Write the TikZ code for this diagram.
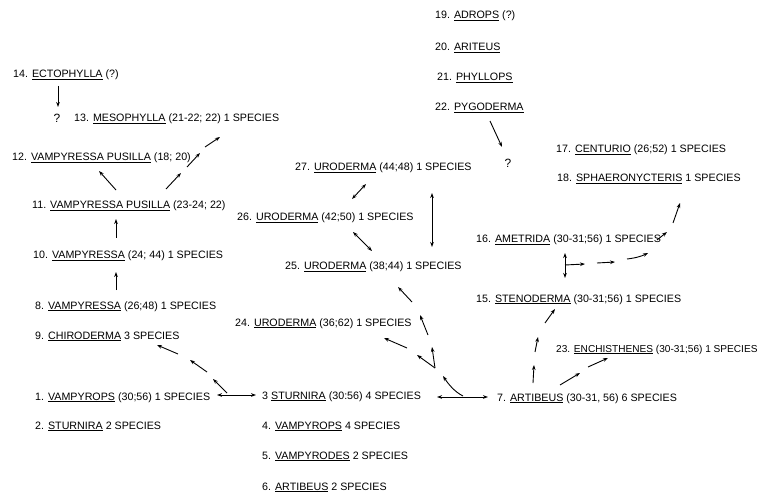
\documentclass[tikz,border=0pt]{standalone}
\usepackage{fontspec}
\setmainfont{Liberation Sans}
\usetikzlibrary{arrows.meta}
\newcommand{\gn}[1]{\underline{#1}}
\begin{document}
\begin{tikzpicture}[x=1pt,y=-1pt,
  lab/.style={anchor=base west,inner sep=0pt,font=\fontsize{10.7}{12}\selectfont},
  qm/.style={anchor=center,inner sep=0pt,font=\fontsize{12}{14}\selectfont},
  arr/.style={line width=0.9pt,-{Stealth[length=5pt,width=3.6pt]}},
  darr/.style={line width=0.9pt,{Stealth[length=5pt,width=3.6pt]}-{Stealth[length=5pt,width=3.6pt]}},
  ]
\useasboundingbox (0,0) rectangle (768,494);
% left column
\node[lab] (n14) at (13,78) {14. \gn{ECTOPHYLLA} (?)};
\node[qm]  (q14) at (57,118) {?};
\node[lab] (n13) at (74,122) {13. \gn{MESOPHYLLA} (21-22; 22) 1 SPECIES};
\node[lab] (n12) at (12,161) {12. \gn{VAMPYRESSA PUSILLA} (18; 20)};
\node[lab] (n11) at (32,209) {11. \gn{VAMPYRESSA PUSILLA} (23-24; 22)};
\node[lab] (n10) at (33,259) {10. \gn{VAMPYRESSA} (24; 44) 1 SPECIES};
\node[lab] (n8)  at (35,309) {8. \gn{VAMPYRESSA} (26;48) 1 SPECIES};
\node[lab] (n9)  at (35,339) {9. \gn{CHIRODERMA} 3 SPECIES};
\node[lab] (n1)  at (35,400) {1. \gn{VAMPYROPS} (30;56) 1 SPECIES};
\node[lab] (n2)  at (35,429) {2. \gn{STURNIRA} 2 SPECIES};
% centre column
\node[lab] (n3)  at (262,399) {3 \gn{STURNIRA} (30:56) 4 SPECIES};
\node[lab] (n4)  at (262,429) {4. \gn{VAMPYROPS} 4 SPECIES};
\node[lab] (n5)  at (262,459) {5. \gn{VAMPYRODES} 2 SPECIES};
\node[lab] (n6)  at (262,490) {6. \gn{ARTIBEUS} 2 SPECIES};
\node[lab] (n24) at (235,326) {24. \gn{URODERMA} (36;62) 1 SPECIES};
\node[lab] (n25) at (285,270) {25. \gn{URODERMA} (38;44) 1 SPECIES};
\node[lab] (n26) at (237,221) {26. \gn{URODERMA} (42;50) 1 SPECIES};
\node[lab] (n27) at (295,171) {27. \gn{URODERMA} (44;48) 1 SPECIES};
% top
\node[lab] (n19) at (435,19) {19. \gn{ADROPS} (?)};
\node[lab] (n20) at (435,51) {20. \gn{ARITEUS}};
\node[lab] (n21) at (437,81) {21. \gn{PHYLLOPS}};
\node[lab] (n22) at (435,111) {22. \gn{PYGODERMA}};
\node[qm]  (q22) at (508,163) {?};
% right
\node[lab] (n17) at (556,153) {17. \gn{CENTURIO} (26;52) 1 SPECIES};
\node[lab] (n18) at (557,182) {18. \gn{SPHAERONYCTERIS} 1 SPECIES};
\node[lab] (n16) at (476,243) {16. \gn{AMETRIDA} (30-31;56) 1 SPECIES};
\node[lab] (n15) at (476,302) {15. \gn{STENODERMA} (30-31;56) 1 SPECIES};
\node[lab,font=\fontsize{10.1}{12}\selectfont] (n23) at (556,352) {23. \gn{ENCHISTHENES} (30-31;56) 1 SPECIES};
\node[lab] (n7)  at (497,401) {7. \gn{ARTIBEUS} (30-31, 56) 6 SPECIES};

% connectors, left
\draw[arr] (58,86) -- (58,107);
\draw[arr] (116,190) -- (99,171);
\draw[arr] (166,189) -- (181,173);
\draw[arr] (187,167) -- (200,153);
\draw[arr] (205,147) -- (220,137);
\draw[arr] (116,238) -- (116,219);
\draw[arr] (116,290) -- (116,272);
\draw[darr] (217,395) -- (256,395);
\draw[arr] (227,393) -- (213,379);
\draw[arr] (207,372) -- (190,360);
\draw[arr] (178,354) -- (157,345);
% centre
\draw[darr] (437,397) -- (488,397);
\draw[arr] (463,396) .. controls (455,392) and (449,385) .. (443,376);
\draw[arr] (435,368) -- (417,355);
\draw[arr] (435,368) -- (432,347);
\draw[arr] (407,348) -- (384,338);
\draw[arr] (428,335) -- (420,315);
\draw[arr] (412,302) -- (398,287);
\draw[darr] (353,232) -- (372,251);
\draw[darr] (366,184) -- (352,199);
\draw[darr] (432,193) -- (432,247);
\draw[arr] (490,121) -- (502,147);
% right
\draw[arr] (533,383) -- (534,365);
\draw[arr] (535,352) -- (538,337);
\draw[arr] (545,323) -- (555,309);
\draw[arr] (560,385) -- (580,373);
\draw[arr] (588,367) -- (608,358);
\draw[darr] (565,253) -- (565,278);
\draw[arr] (565,265) -- (585,264);
\draw[arr] (597,263) -- (615,262);
\draw[arr] (627,259) .. controls (636,258) and (642,256) .. (648,253);
\draw[arr] (657,240) -- (667,232);
\draw[arr] (673,223) -- (680,203);
\end{tikzpicture}
\end{document}
